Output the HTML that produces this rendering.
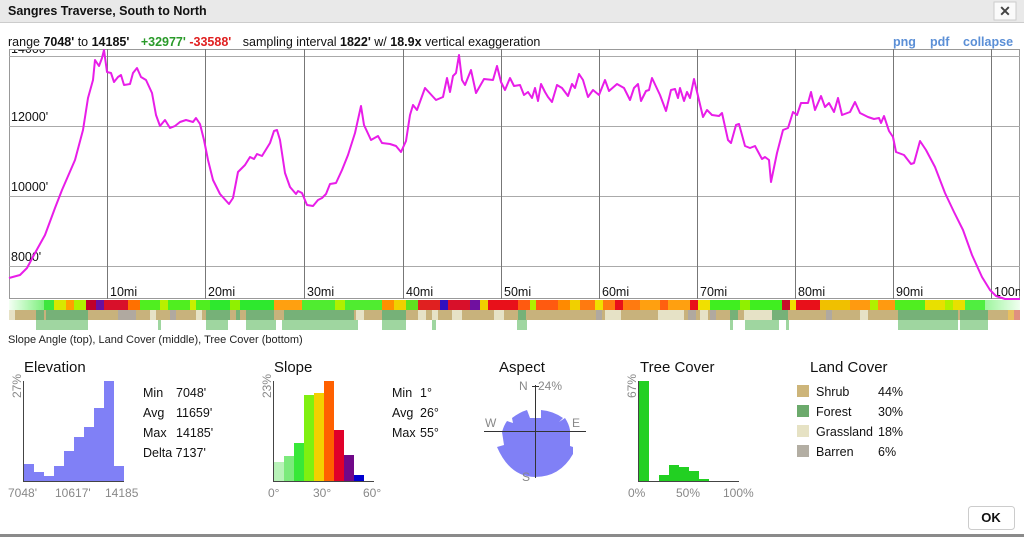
<!DOCTYPE html>
<html><head><meta charset="utf-8"><style>
body{margin:0;width:1024px;height:537px;overflow:hidden;background:#fff;font-family:"Liberation Sans",Arial,sans-serif;}
</style></head><body>
<svg width="1024" height="537" xmlns="http://www.w3.org/2000/svg" font-family="Liberation Sans, Arial, sans-serif">
<defs>
<clipPath id="cc"><rect x="9" y="50" width="1011" height="250"/></clipPath>
<linearGradient id="pg" x1="0" x2="1"><stop offset="0" stop-color="#f4fff4"/><stop offset="1" stop-color="#7ef07e"/></linearGradient>
<linearGradient id="pg2" x1="0" x2="1"><stop offset="0" stop-color="#9ef59e"/><stop offset="1" stop-color="#f0fff0"/></linearGradient>
</defs>
<rect x="0" y="0" width="1024" height="22" fill="#e9e9e9"/>
<line x1="0" y1="22.5" x2="1024" y2="22.5" stroke="#ccc"/>
<text x="8" y="15" font-size="12.5" font-weight="bold" fill="#111">Sangres Traverse, South to North</text>
<rect x="994" y="2" width="22" height="18" fill="#fafafa" stroke="#ccc"/>
<text x="1005" y="16" font-size="14" font-weight="bold" text-anchor="middle" fill="#444">✕</text>
<text x="8" y="46" font-size="12.5" fill="#111">range <tspan font-weight="bold">7048'</tspan> to <tspan font-weight="bold">14185'</tspan>   <tspan font-weight="bold" fill="#2a9a2a" dx="8">+32977'</tspan> <tspan font-weight="bold" fill="#e02020">-33588'</tspan>   <tspan dx="8">sampling interval </tspan><tspan font-weight="bold">1822'</tspan> w/ <tspan font-weight="bold">18.9x</tspan> vertical exaggeration</text>
<text x="893" y="46" font-size="12.5" font-weight="bold" fill="#5b8fd6">png</text>
<text x="930" y="46" font-size="12.5" font-weight="bold" fill="#5b8fd6">pdf</text>
<text x="963" y="46" font-size="12.5" font-weight="bold" fill="#5b8fd6">collapse</text>
<!-- chart -->
<rect x="9.5" y="49.5" width="1010" height="249" fill="#fff" stroke="#999"/>
<g stroke="#aaa" stroke-width="1">
<line x1="9" y1="56.5" x2="1020" y2="56.5"/>
<line x1="9" y1="126.5" x2="1020" y2="126.5"/>
<line x1="9" y1="196.5" x2="1020" y2="196.5"/>
<line x1="9" y1="266.5" x2="1020" y2="266.5"/>
</g>
<g stroke="#777" stroke-width="1">
<line x1="107.5" y1="49" x2="107.5" y2="299"/><line x1="205.5" y1="49" x2="205.5" y2="299"/>
<line x1="304.5" y1="49" x2="304.5" y2="299"/><line x1="403.5" y1="49" x2="403.5" y2="299"/>
<line x1="501.5" y1="49" x2="501.5" y2="299"/><line x1="599.5" y1="49" x2="599.5" y2="299"/>
<line x1="697.5" y1="49" x2="697.5" y2="299"/><line x1="795.5" y1="49" x2="795.5" y2="299"/>
<line x1="893.5" y1="49" x2="893.5" y2="299"/><line x1="991.5" y1="49" x2="991.5" y2="299"/>
</g>
<g font-size="12.5" fill="#111" clip-path="url(#cc)">
<text x="11" y="53">14000'</text>
<text x="11" y="121">12000'</text><text x="11" y="191">10000'</text><text x="11" y="261">8000'</text>
<text x="110" y="296">10mi</text><text x="208" y="296">20mi</text><text x="307" y="296">30mi</text><text x="406" y="296">40mi</text><text x="504" y="296">50mi</text><text x="602" y="296">60mi</text><text x="700" y="296">70mi</text><text x="798" y="296">80mi</text><text x="896" y="296">90mi</text><text x="994" y="296">100mi</text>
</g>
<polyline fill="none" stroke="#e81de8" stroke-width="2" stroke-linejoin="round" points="9,278 20,275 27,268 35,253 45,235 55,208 62,190 75,160 83,130 88,98 93,80 95,60 99,66 102,58 104,50 107,72 111,73 114,82 118,77 121,75 124,85 130,84 133,73 137,68 141,77 146,80 152,93 156,115 160,126 165,120 170,128 175,126 180,122 186,120 193,122 196,118 200,124 204,140 208,160 213,180 220,194 229,204 233,198 238,172 245,165 250,157 254,159 257,154 262,156 270,143 274,131 277,130 280,140 285,173 290,187 296,194 298,191 302,193 307,205 313,206 318,200 322,198 326,194 330,184 336,183 342,170 348,155 355,133 361,106 364,125 371,140 378,136 382,143 390,144 396,146 401,152 406,141 410,115 413,105 417,110 425,88 436,100 443,97 447,78 450,92 453,76 456,73 459,55 462,80 465,85 471,70 476,93 484,79 493,80 497,66 501,82 505,90 510,78 514,86 520,85 524,95 528,92 532,98 535,88 538,101 541,84 545,92 548,97 552,102 557,85 562,88 568,96 572,84 575,88 579,74 583,80 588,97 593,90 599,95 605,80 609,91 617,84 624,88 630,100 634,88 638,84 641,101 646,91 649,90 652,78 660,95 666,111 671,90 675,89 678,98 680,88 684,101 687,92 690,98 694,79 698,96 703,117 707,110 712,115 719,116 722,113 728,140 731,143 736,125 739,124 745,146 750,148 755,146 762,159 765,157 769,160 771,182 777,153 783,130 788,128 793,112 797,115 801,103 808,103 811,92 815,110 821,96 825,107 829,103 834,112 838,98 842,115 850,112 855,102 860,113 868,117 874,119 879,118 881,123 884,116 889,131 893,137 896,152 904,155 911,164 914,163 920,141 926,150 935,167 945,193 954,212 963,230 972,255 982,277 990,290 996,296 1005,299 1020,299"/>
<!-- slope band -->
<g>
<rect x="9" y="300" width="35" height="10" fill="url(#pg)"/>
<rect x="44" y="300" width="10" height="10" fill="#3ee63e"/><rect x="54" y="300" width="12" height="10" fill="#d8e800"/><rect x="66" y="300" width="8" height="10" fill="#ffa000"/><rect x="74" y="300" width="12" height="10" fill="#b0f000"/>
<rect x="86" y="300" width="10" height="10" fill="#c0002a"/><rect x="96" y="300" width="8" height="10" fill="#6a10a0"/><rect x="104" y="300" width="24" height="10" fill="#d8102a"/><rect x="128" y="300" width="12" height="10" fill="#ff7000"/>
<rect x="140" y="300" width="70" height="10" fill="#50ee20"/><rect x="160" y="300" width="8" height="10" fill="#b8f000"/><rect x="190" y="300" width="6" height="10" fill="#c8f000"/>
<rect x="210" y="300" width="64" height="10" fill="#2ee82e"/><rect x="230" y="300" width="10" height="10" fill="#90f000"/>
<rect x="274" y="300" width="28" height="10" fill="#ffa010"/><rect x="302" y="300" width="80" height="10" fill="#50ec30"/><rect x="335" y="300" width="10" height="10" fill="#b0f000"/>
<rect x="382" y="300" width="12" height="10" fill="#ff9000"/><rect x="394" y="300" width="12" height="10" fill="#f0d000"/><rect x="406" y="300" width="12" height="10" fill="#60e020"/>
<rect x="418" y="300" width="22" height="10" fill="#e02020"/><rect x="440" y="300" width="8" height="10" fill="#3010c0"/><rect x="448" y="300" width="30" height="10" fill="#d8102a"/><rect x="470" y="300" width="10" height="10" fill="#7010a0"/><rect x="480" y="300" width="8" height="10" fill="#f0d000"/>
<rect x="488" y="300" width="30" height="10" fill="#e8101a"/><rect x="518" y="300" width="40" height="10" fill="#ff5a10"/><rect x="530" y="300" width="6" height="10" fill="#b0f000"/><rect x="558" y="300" width="12" height="10" fill="#ff8a00"/><rect x="570" y="300" width="10" height="10" fill="#f0d000"/>
<rect x="580" y="300" width="60" height="10" fill="#ff7a10"/><rect x="595" y="300" width="8" height="10" fill="#f0e000"/><rect x="615" y="300" width="8" height="10" fill="#e8101a"/>
<rect x="640" y="300" width="50" height="10" fill="#ffa010"/><rect x="660" y="300" width="8" height="10" fill="#ff6010"/>
<rect x="690" y="300" width="8" height="10" fill="#e8101a"/><rect x="698" y="300" width="12" height="10" fill="#f0e000"/>
<rect x="710" y="300" width="72" height="10" fill="#40ee20"/><rect x="740" y="300" width="10" height="10" fill="#90f000"/>
<rect x="782" y="300" width="8" height="10" fill="#c8102a"/><rect x="790" y="300" width="6" height="10" fill="#f0e000"/>
<rect x="796" y="300" width="24" height="10" fill="#e8101a"/><rect x="820" y="300" width="30" height="10" fill="#f0c000"/><rect x="850" y="300" width="45" height="10" fill="#ff9a10"/><rect x="870" y="300" width="8" height="10" fill="#b0f000"/>
<rect x="895" y="300" width="30" height="10" fill="#50ee20"/><rect x="925" y="300" width="40" height="10" fill="#e8e000"/><rect x="945" y="300" width="8" height="10" fill="#b0f000"/>
<rect x="965" y="300" width="20" height="10" fill="#50ee40"/><rect x="985" y="300" width="35" height="10" fill="url(#pg2)"/>
</g>
<!-- land cover band -->
<rect x="9" y="310" width="1011" height="10" fill="#c8b27c"/>
<g fill="#76b178">
<rect x="36" y="310" width="8" height="10"/><rect x="46" y="310" width="36" height="10"/><rect x="74" y="310" width="14" height="10"/>
<rect x="206" y="310" width="24" height="10"/><rect x="236" y="310" width="4" height="10"/><rect x="246" y="310" width="28" height="10"/><rect x="284" y="310" width="70" height="10"/><rect x="382" y="310" width="24" height="10"/><rect x="518" y="310" width="8" height="10"/>
<rect x="730" y="310" width="8" height="10"/><rect x="772" y="310" width="16" height="10"/><rect x="898" y="310" width="60" height="10"/><rect x="960" y="310" width="28" height="10"/>
</g>
<g fill="#e6e2c6">
<rect x="9" y="310" width="6" height="10"/><rect x="150" y="310" width="6" height="10"/><rect x="196" y="310" width="6" height="10"/><rect x="356" y="310" width="8" height="10"/><rect x="418" y="310" width="8" height="10"/><rect x="432" y="310" width="6" height="10"/><rect x="452" y="310" width="10" height="10"/><rect x="494" y="310" width="10" height="10"/>
<rect x="605" y="310" width="16" height="10"/><rect x="658" y="310" width="26" height="10"/><rect x="744" y="310" width="28" height="10"/><rect x="700" y="310" width="8" height="10"/><rect x="860" y="310" width="8" height="10"/>
</g>
<g fill="#b0a9a0">
<rect x="118" y="310" width="18" height="10"/><rect x="170" y="310" width="6" height="10"/><rect x="596" y="310" width="6" height="10"/><rect x="688" y="310" width="8" height="10"/><rect x="710" y="310" width="6" height="10"/><rect x="826" y="310" width="6" height="10"/>
</g>
<rect x="1014" y="310" width="6" height="10" fill="#e09080"/><rect x="1008" y="310" width="6" height="10" fill="#e8c060"/>
<!-- tree cover band -->
<g fill="#8fcf90" opacity="0.85">
<rect x="36" y="320" width="52" height="10"/><rect x="158" y="320" width="3" height="10"/><rect x="206" y="320" width="22" height="10"/><rect x="246" y="320" width="30" height="10"/><rect x="282" y="320" width="76" height="10"/><rect x="382" y="320" width="24" height="10"/><rect x="432" y="320" width="4" height="10"/><rect x="517" y="320" width="10" height="10"/>
<rect x="730" y="320" width="3" height="10"/><rect x="745" y="320" width="34" height="10"/><rect x="786" y="320" width="3" height="10"/><rect x="898" y="320" width="60" height="10"/><rect x="960" y="320" width="28" height="10"/>
</g>
<text x="8" y="343" font-size="11" fill="#222">Slope Angle (top), Land Cover (middle), Tree Cover (bottom)</text>
<!-- Elevation -->
<text x="24" y="372" font-size="15" fill="#111">Elevation</text>
<text transform="translate(21,398) rotate(-90)" font-size="12" fill="#888">27%</text>
<g fill="#8080f6">
<rect x="24" y="464" width="10" height="17"/><rect x="34" y="472" width="10" height="9"/><rect x="44" y="476" width="10" height="5"/><rect x="54" y="466" width="10" height="15"/><rect x="64" y="451" width="10" height="30"/><rect x="74" y="437" width="10" height="44"/><rect x="84" y="427" width="10" height="54"/><rect x="94" y="408" width="10" height="73"/><rect x="104" y="381" width="10" height="100"/><rect x="114" y="466" width="10" height="15"/>
</g>
<path d="M23.5 381 V481.5 H124" fill="none" stroke="#444"/>
<g font-size="12" fill="#888"><text x="8" y="497">7048'</text><text x="55" y="497">10617'</text><text x="105" y="497">14185</text></g>
<g font-size="12.5" fill="#111"><text x="143" y="397">Min</text><text x="176" y="397">7048'</text><text x="143" y="417">Avg</text><text x="176" y="417">11659'</text><text x="143" y="437">Max</text><text x="176" y="437">14185'</text><text x="143" y="457">Delta 7137'</text></g>
<!-- Slope -->
<text x="274" y="372" font-size="15" fill="#111">Slope</text>
<text transform="translate(271,398) rotate(-90)" font-size="12" fill="#888">23%</text>
<rect x="274" y="462" width="10" height="19" fill="#b8f2b8"/><rect x="284" y="456" width="10" height="25" fill="#7cea7c"/><rect x="294" y="443" width="10" height="38" fill="#38e838"/><rect x="304" y="395" width="10" height="86" fill="#80f010"/><rect x="314" y="393" width="10" height="88" fill="#f4d000"/><rect x="324" y="381" width="10" height="100" fill="#ff6000"/><rect x="334" y="430" width="10" height="51" fill="#e0002a"/><rect x="344" y="455" width="10" height="26" fill="#700888"/><rect x="354" y="475" width="10" height="6" fill="#0000d0"/>
<path d="M273.5 381 V481.5 H374" fill="none" stroke="#444"/>
<g font-size="12" fill="#888"><text x="268" y="497">0°</text><text x="313" y="497">30°</text><text x="363" y="497">60°</text></g>
<g font-size="12.5" fill="#111"><text x="392" y="397">Min</text><text x="420" y="397">1°</text><text x="392" y="417">Avg</text><text x="420" y="417">26°</text><text x="392" y="437">Max</text><text x="420" y="437">55°</text></g>
<!-- Aspect -->
<text x="499" y="372" font-size="15" fill="#111">Aspect</text>
<path fill="#8080f6" d="M535,418 L541,418 L541,410 Q553,411 563,418 L559,422 L565,418 Q569,424 570,430 L570,446 L573,447 L573,454 Q560,477 535,477 Q510,477 497,447 L504,445 L502,432 Q504,425 507,421 L513,423 L512,418 Q520,412 527,410 L530,418 Z"/>
<line x1="535.5" y1="385" x2="535.5" y2="478" stroke="#333"/>
<line x1="484" y1="431.5" x2="586" y2="431.5" stroke="#333"/>
<g font-size="12" fill="#888"><text x="519" y="390">N</text><text x="538" y="390">24%</text><text x="485" y="427">W</text><text x="572" y="427">E</text><text x="522" y="481">S</text></g>
<line x1="532" y1="386.5" x2="539" y2="386.5" stroke="#333"/>
<!-- Tree cover -->
<text x="640" y="372" font-size="15" fill="#111">Tree Cover</text>
<text transform="translate(636,398) rotate(-90)" font-size="12" fill="#888">67%</text>
<g fill="#22d022"><rect x="639" y="381" width="10" height="100"/><rect x="659" y="475" width="10" height="6"/><rect x="669" y="465" width="10" height="16"/><rect x="679" y="467" width="10" height="14"/><rect x="689" y="471" width="10" height="10"/><rect x="699" y="479" width="10" height="2"/></g>
<path d="M638.5 381 V481.5 H739" fill="none" stroke="#444"/>
<g font-size="12" fill="#888"><text x="628" y="497">0%</text><text x="676" y="497">50%</text><text x="723" y="497">100%</text></g>
<!-- Land cover legend -->
<text x="810" y="372" font-size="15" fill="#111">Land Cover</text>
<rect x="797" y="385" width="12" height="12" fill="#cdb57a"/><rect x="797" y="405" width="12" height="12" fill="#6caa6c"/><rect x="797" y="425" width="12" height="12" fill="#e6e2c4"/><rect x="797" y="445" width="12" height="12" fill="#b3aea3"/>
<g font-size="12.5" fill="#111"><text x="816" y="396">Shrub</text><text x="878" y="396">44%</text><text x="816" y="416">Forest</text><text x="878" y="416">30%</text><text x="816" y="436">Grassland</text><text x="878" y="436">18%</text><text x="816" y="456">Barren</text><text x="878" y="456">6%</text></g>
<!-- OK -->
<rect x="968.5" y="506.5" width="46" height="23" rx="3" fill="#fff" stroke="#ccc"/>
<text x="991" y="522" font-size="13" font-weight="bold" text-anchor="middle" fill="#111">OK</text>
<rect x="0" y="534" width="1024" height="3" fill="#8a8a8a"/>
</svg>
</body></html>
